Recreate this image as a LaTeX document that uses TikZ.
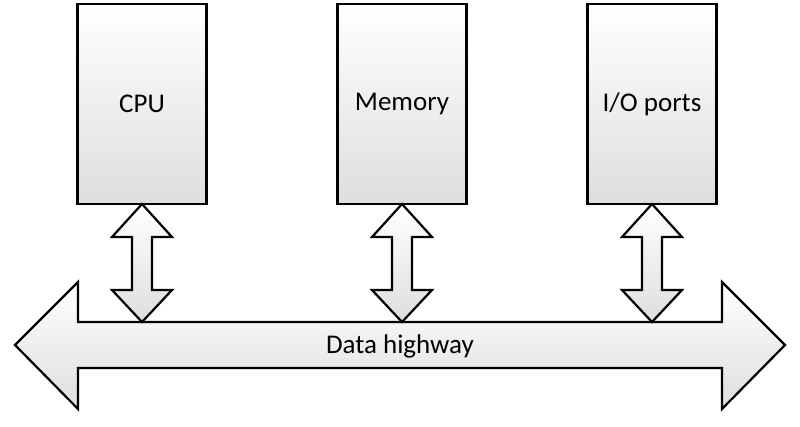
\documentclass[tikz,border=0pt]{standalone}
\usepackage{fontspec}
\setmainfont{Carlito}
\begin{document}
\begin{tikzpicture}[x=1pt,y=-1pt,
  box/.style={draw=black,line width=2.2pt,top color=white,bottom color=black!13,minimum width=129pt,minimum height=200pt,font=\fontsize{27}{30}\selectfont},
  shp/.style={draw=black,line width=2.2pt,line join=miter,top color=white,bottom color=black!13}]
\useasboundingbox (0,0) rectangle (800,426);
\node[box] (cpu) at (142,104) {CPU};
\node[box] (mem) at (402,104) {Memory};
\node[box] (io) at (652,104) {I/O ports};
\path[shp] (15,345) -- (78,282) -- (78,322) -- (722,322) -- (722,282) -- (785,345) -- (722,409) -- (722,368) -- (78,368) -- (78,409) -- cycle;
\node[font=\fontsize{27}{30}\selectfont] (bus) at (400,346) {Data highway};
\foreach \n/\c in {cpu/142,mem/402,io/652}{
  \path[shp] (\c,204) -- (\c+30,237) -- (\c+10,237) -- (\c+10,290) -- (\c+30,290) -- (\c,322) -- (\c-30,290) -- (\c-10,290) -- (\c-10,237) -- (\c-30,237) -- cycle;
}
\end{tikzpicture}
\end{document}
